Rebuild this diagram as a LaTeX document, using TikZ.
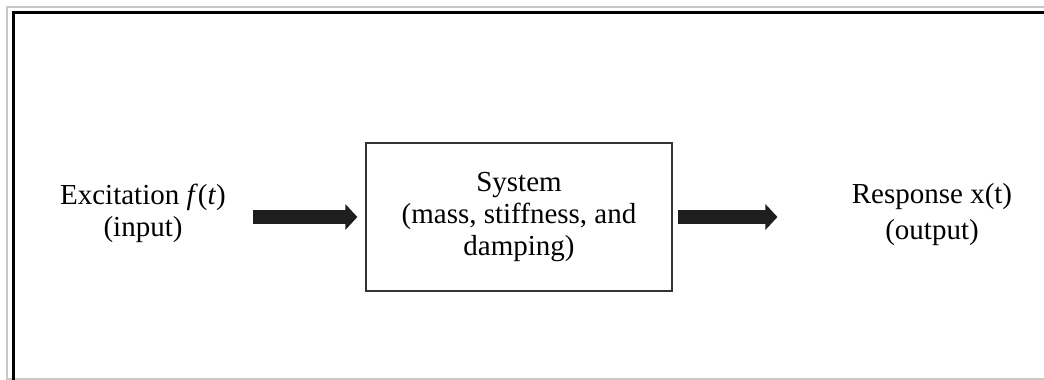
\documentclass[tikz,border=0pt]{standalone}
\usepackage{fontspec}
\setmainfont{Liberation Serif}
\usetikzlibrary{arrows.meta,positioning}
\definecolor{framegrey}{RGB}{200,200,200}
\definecolor{arrowdark}{RGB}{30,30,30}
\tikzset{
  base/.style={font=\fontsize{14.5}{16}\selectfont, align=center, inner sep=0pt, text=black},
  blockbox/.style={base, rectangle, draw=black!80, fill=white, line width=0.6pt, minimum width=153pt, minimum height=74pt},
  sig/.style={base},
  fatarr/.style={-{Triangle[length=6pt,width=12.5pt]}, line width=7pt, draw=arrowdark},
}

\begin{document}
\begin{tikzpicture}[x=0.5pt,y=-0.5pt]
  \useasboundingbox[fill=white] (0,0) rectangle (1044,380);
  % page frame
  \draw[framegrey, line width=0.6pt] (7,380) -- (7,7) -- (1044,7);
  \draw[framegrey, line width=0.6pt] (7,379) -- (1044,379);
  \draw[black, line width=1.5pt] (13.5,380) -- (13.5,12) -- (1044,12);
  % blocks
  \node[blockbox] (sys) at (519,217) {System\\(mass, stiffness, and\\damping)};
  \node[sig] (inp) at (143,213) {Excitation \textit{f}(\textit{t})\\(input)};
  \node[sig, font=\fontsize{14.5}{18}\selectfont] (outp) at (932,215) {Response x(t)\\(output)};
  \draw[fatarr, shorten <=13.5pt, shorten >=4pt] (inp.east |- sys.west) -- (sys.west);
  \draw[fatarr, shorten <=2.5pt, shorten >=37pt] (sys.east) -- (sys.east -| outp.west);
\end{tikzpicture}
\end{document}
